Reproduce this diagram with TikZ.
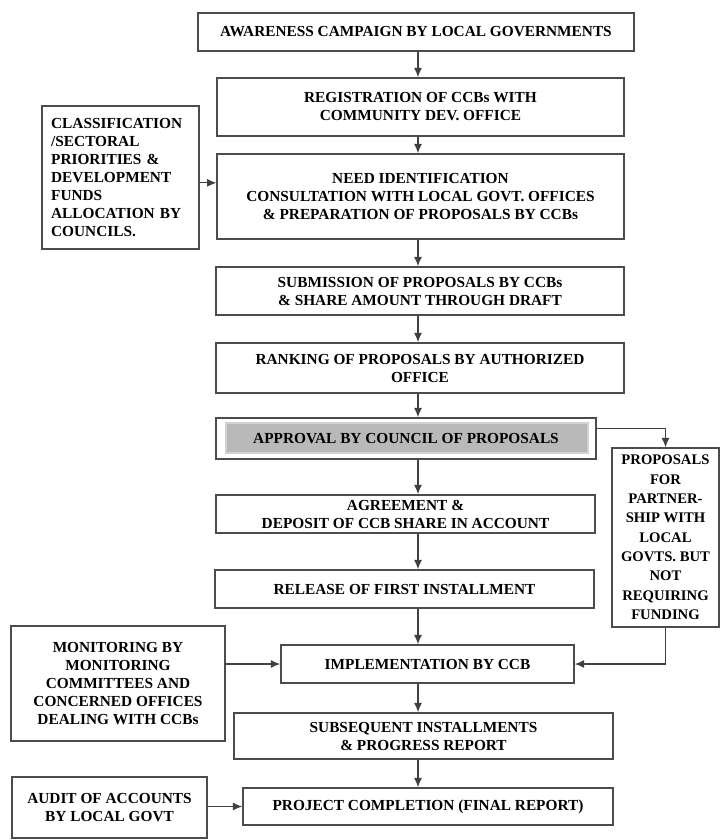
\documentclass[tikz,border=0pt]{standalone}
\usepackage{fontspec}
\setmainfont{Liberation Serif}
\usepackage{tikz}
\usetikzlibrary{arrows.meta}

\begin{document}
\begin{tikzpicture}[x=0.75pt,y=-0.75pt,
  box/.style={draw=black!70,line width=1.1pt,align=center,inner sep=2pt,font=\fontsize{11.5}{13.5}\selectfont\bfseries},
  flow/.style={draw=black!75,line width=0.9pt,-{Latex[length=7pt,width=6pt]}}]
\useasboundingbox (0,0) rectangle (721,840);
\coordinate (spine) at (418,0);
\node[box,minimum width=327pt,minimum height=28.5pt] (aware) at (416,32) {AWARENESS CAMPAIGN BY LOCAL GOVERNMENTS};
\node[box,minimum width=305pt,minimum height=43.5pt] (reg) at (420.5,107) {REGISTRATION OF CCBs WITH\\COMMUNITY DEV. OFFICE};
\node[box,minimum width=305pt,minimum height=63.75pt] (need) at (420.5,196.5) {NEED IDENTIFICATION\\CONSULTATION WITH LOCAL GOVT. OFFICES\\\& PREPARATION OF PROPOSALS BY CCBs};
\node[box,align=left,text width=104pt,minimum width=117.75pt,minimum height=107.25pt] (class) at (120.5,177.5) {CLASSIFICATION\\/SECTORAL\\PRIORITIES \&\\DEVELOPMENT\\FUNDS\\ALLOCATION BY\\COUNCILS.};
\node[box,minimum width=306pt,minimum height=36pt] (subm) at (420,291) {SUBMISSION OF PROPOSALS BY CCBs\\\& SHARE AMOUNT THROUGH DRAFT};
\node[box,minimum width=306pt,minimum height=37.5pt] (rank) at (420,368) {RANKING OF PROPOSALS BY AUTHORIZED\\OFFICE};
\node[box,minimum width=285pt,minimum height=30.75pt,
  path picture={\fill[gray!55,draw=gray!35] ([shift={(10,5)}]path picture bounding box.north west) rectangle ([shift={(-8,-6)}]path picture bounding box.south east);}] (appr) at (406,438.5) {APPROVAL BY COUNCIL OF PROPOSALS};
\node[box,minimum width=284.25pt,minimum height=28.5pt] (agree) at (405.5,514) {AGREEMENT \&\\DEPOSIT OF CCB SHARE IN ACCOUNT};
\node[box,minimum width=284.25pt,minimum height=28.5pt] (release) at (404.5,589) {RELEASE OF FIRST INSTALLMENT};
\node[box,font=\fontsize{11}{14.5}\selectfont\bfseries,minimum width=80.25pt,minimum height=134.25pt] (partner) at (665.5,537.5) {PROPOSALS\\FOR\\PARTNER-\\SHIP WITH\\LOCAL\\GOVTS. BUT\\NOT\\REQUIRING\\FUNDING};
\node[box,minimum width=160.5pt,minimum height=86.25pt] (monit) at (118,683.5) {MONITORING BY\\MONITORING\\COMMITTEES AND\\CONCERNED OFFICES\\DEALING WITH CCBs};
\node[box,minimum width=219.75pt,minimum height=28.5pt] (impl) at (427.5,664) {IMPLEMENTATION BY CCB};
\node[box,minimum width=284.25pt,minimum height=34.5pt] (subseq) at (423.5,736) {SUBSEQUENT INSTALLMENTS\\\& PROGRESS REPORT};
\node[box,minimum width=146.25pt,minimum height=45.75pt] (audit) at (109.5,807.5) {AUDIT OF ACCOUNTS\\BY LOCAL GOVT};
\node[box,minimum width=277.5pt,minimum height=27.75pt] (complete) at (428,806.5) {PROJECT COMPLETION (FINAL REPORT)};

\draw[flow] (spine |- aware.south) -- (spine |- reg.north); \draw[flow] (spine |- reg.south) -- (spine |- need.north);
\draw[flow] (spine |- need.south) -- (spine |- subm.north); \draw[flow] (spine |- subm.south) -- (spine |- rank.north);
\draw[flow] (spine |- rank.south) -- (spine |- appr.north); \draw[flow] (spine |- appr.south) -- (spine |- agree.north);
\draw[flow] (spine |- agree.south) -- (spine |- release.north); \draw[flow] (spine |- release.south) -- (spine |- impl.north);
\draw[flow] (spine |- impl.south) -- (spine |- subseq.north); \draw[flow] (spine |- subseq.south) -- (spine |- complete.north);
\draw[flow] ([yshift=-4pt]class.east) -- ([yshift=-4pt]class.east -| need.west);
\draw[flow] ([yshift=7.5pt]appr.east) -| (partner.north);
\draw[flow] (partner.south) |- (impl.east);
\draw[flow] (impl.west -| monit.east) -- (impl.west);
\draw[flow] (complete.west -| audit.east) -- (complete.west);
\end{tikzpicture}
\end{document}
